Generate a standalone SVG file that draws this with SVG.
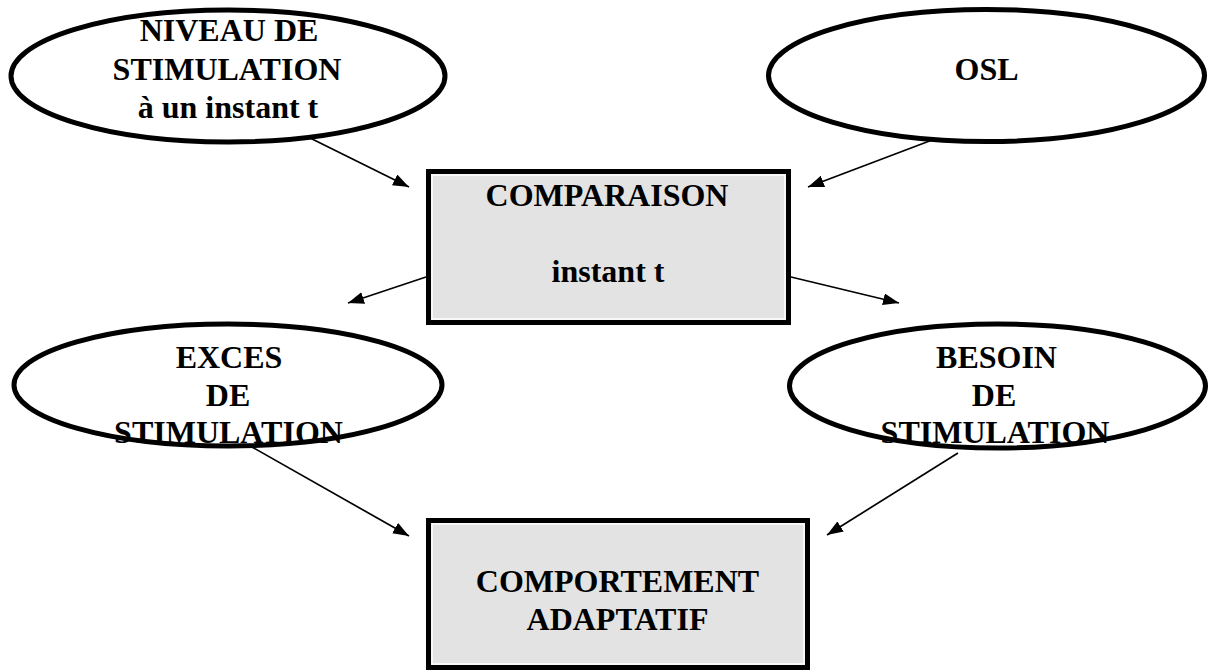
<svg xmlns="http://www.w3.org/2000/svg" width="1209" height="672" viewBox="0 0 1209 672">
<style>
.ell{fill:#fff;stroke:#000;stroke-width:5}
.box{fill:#e3e3e3;stroke:#000;stroke-width:5}
.inner{fill:none;stroke:#fff;stroke-width:1.5}
.t{font-family:"Liberation Serif","Times New Roman",serif;font-weight:bold;font-size:32px;text-anchor:middle;fill:#000}
.arr{stroke:#000;stroke-width:1.7;fill:none;marker-end:url(#ah)}
</style>
<defs>
<marker id="ah" markerUnits="userSpaceOnUse" markerWidth="16" markerHeight="12" refX="16" refY="6" orient="auto">
<path d="M0,0 L16,6 L0,12 z" fill="#000"/>
</marker>
</defs>
<rect width="1209" height="672" fill="#fff"/>
<g id="connectors">
<line class="arr" x1="300" y1="133" x2="409" y2="187"/>
<line class="arr" x1="948" y1="134" x2="808" y2="187"/>
<line class="arr" x1="426" y1="277" x2="348" y2="303"/>
<line class="arr" x1="791" y1="277" x2="899" y2="303"/>
<line class="arr" x1="252" y1="447" x2="409" y2="536"/>
<line class="arr" x1="958" y1="453" x2="827" y2="535"/>
</g>
<g id="niveau">
<ellipse class="ell" cx="228" cy="76" rx="217" ry="66"/>
<text class="t" x="229" y="41">NIVEAU DE</text>
<text class="t" x="227" y="80">STIMULATION</text>
<text class="t" x="228" y="118">à un instant t</text>
</g>
<g id="osl">
<ellipse class="ell" cx="986.5" cy="75.5" rx="218" ry="66"/>
<text class="t" x="986.5" y="80">OSL</text>
</g>
<g id="comparaison">
<rect class="box" x="428.5" y="171.5" width="360" height="151"/>
<rect class="inner" x="432" y="175" width="353" height="144"/>
<text class="t" x="607" y="206">COMPARAISON</text>
<text class="t" x="608" y="282">instant t</text>
</g>
<g id="exces">
<ellipse class="ell" cx="228" cy="385" rx="214" ry="61"/>
<text class="t" x="229" y="368">EXCES</text>
<text class="t" x="228" y="406">DE</text>
<text class="t" x="228.5" y="443">STIMULATION</text>
</g>
<g id="besoin">
<ellipse class="ell" cx="997.5" cy="386" rx="208" ry="62"/>
<text class="t" x="996.5" y="368">BESOIN</text>
<text class="t" x="994" y="406">DE</text>
<text class="t" x="995" y="443">STIMULATION</text>
</g>
<g id="comportement">
<rect class="box" x="428.5" y="520.5" width="379" height="147"/>
<rect class="inner" x="432" y="524" width="372" height="140"/>
<text class="t" x="617.5" y="592">COMPORTEMENT</text>
<text class="t" x="617.5" y="630">ADAPTATIF</text>
</g>
</svg>
